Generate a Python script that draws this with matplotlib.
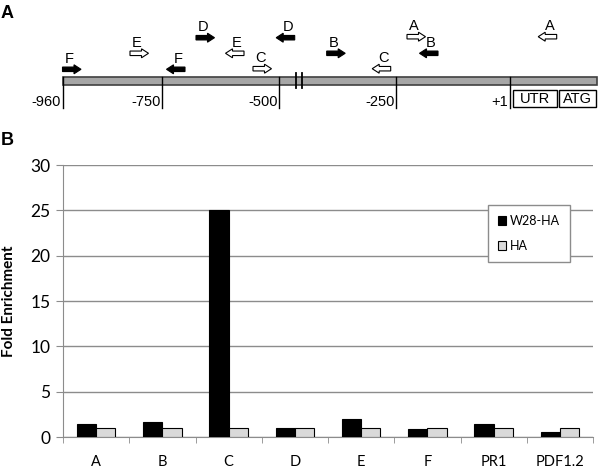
import numpy as np
import matplotlib
matplotlib.use("Agg")
import matplotlib.pyplot as plt
from matplotlib.patches import Rectangle, FancyArrow

# bar chart data
cats = ["A", "B", "C", "D", "E", "F", "PR1", "PDF1.2"]
w28 = [1.4, 1.65, 25.0, 1.0, 1.95, 0.9, 1.45, 0.6]
ha = [1.0, 1.0, 1.0, 1.0, 1.0, 1.0, 1.0, 1.0]

# promoter schematic (pixel positions of the drawing)
tick_x = [62.7, 162, 279, 396.3, 509.7]
tick_lab = ["-960", "-750", "-500", "-250", "+1"]
# primer arrows: label, x start, y, direction, filled
primers = [
    ("F", 62.5, 69.3, 1, True),
    ("E", 130, 53.3, 1, False),
    ("F", 185, 69.3, -1, True),
    ("D", 196, 37.7, 1, True),
    ("E", 244, 53.3, -1, False),
    ("C", 253, 68.7, 1, False),
    ("D", 294.7, 37.7, -1, True),
    ("B", 326.7, 53.3, 1, True),
    ("C", 390.7, 68.7, -1, False),
    ("A", 407, 36.7, 1, False),
    ("B", 438, 53.3, -1, True),
    ("A", 556.7, 36.7, -1, False),
]

fig = plt.figure(figsize=(6, 4.72), dpi=100)

# ---- panel A, drawn in pixel coordinates
ax0 = fig.add_axes([0, 0, 1, 1])
ax0.set_xlim(0, 600)
ax0.set_ylim(472, 0)
ax0.axis("off")

ax0.text(1, 18, "A", fontsize=13, fontweight="bold", family="Liberation Sans", va="baseline")
ax0.text(1, 145, "B", fontsize=13, fontweight="bold", family="Liberation Sans", va="baseline")

ax0.add_patch(Rectangle((62.7, 77.3), 596.7 - 62.7, 8, facecolor="#a6a6a6",
                        edgecolor="#404040", lw=1.2))
for x, lab in zip(tick_x, tick_lab):
    ax0.plot([x, x], [77.3, 108], color="black", lw=1)
    ax0.text(x - 1.5, 101.5, lab, ha="right", va="center", fontsize=10.5,
             family="Liberation Sans")
for x in [295.5, 301.5]:
    ax0.plot([x, x], [73.3, 88.3], color="black", lw=1.3)

ax0.add_patch(Rectangle((513.3, 90), 44, 17.3, facecolor="white", edgecolor="black", lw=1))
ax0.add_patch(Rectangle((559.3, 90), 36.7, 17.3, facecolor="white", edgecolor="black", lw=1))
ax0.text(535.3, 99, "UTR", ha="center", va="center", fontsize=10.5, family="Liberation Sans")
ax0.text(577.6, 99, "ATG", ha="center", va="center", fontsize=10.5, family="Liberation Sans")

for lab, x, y, d, filled in primers:
    fc = "black" if filled else "white"
    ax0.add_patch(FancyArrow(x, y, d * 18.5, 0, width=4.5, head_width=9, head_length=7,
                             length_includes_head=True, facecolor=fc, edgecolor="black",
                             lw=0.8))
    ax0.text(x + d * 7, y - 10.5, lab, ha="center", va="center", fontsize=10.5,
             family="Liberation Sans")

# ---- panel B bar chart
ax = fig.add_axes([63 / 600, 1 - 437 / 472, 530 / 600, 272 / 472])
x = np.arange(len(cats))
bw = 0.29
ax.bar(x - bw / 2, w28, bw, color="black", edgecolor="black", lw=0.8, label="W28-HA", zorder=3)
ax.bar(x + bw / 2, ha, bw, color="#d9d9d9", edgecolor="black", lw=0.8, label="HA", zorder=3)

ax.set_xlim(-0.5, len(cats) - 0.5)
ax.set_ylim(0, 30)
ax.set_yticks(np.arange(0, 31, 5))
ax.grid(axis="y", color="#8c8c8c", lw=1, zorder=0)
ax.set_xticks(x)
ax.set_xticklabels(cats, fontsize=10.5, family="Lato")
ax.tick_params(axis="x", which="major", length=0, pad=13)
ax.set_xticks(np.arange(-0.5, len(cats), 1), minor=True)
ax.tick_params(axis="x", which="minor", length=4, color="#8c8c8c", direction="out")
ax.tick_params(axis="y", length=5, color="#8c8c8c", labelsize=12.5, pad=4)
for t in ax.get_yticklabels():
    t.set_family("Lato")
for s in ["top", "right"]:
    ax.spines[s].set_visible(False)
ax.spines["left"].set_color("#8c8c8c")
ax.spines["bottom"].set_color("#8c8c8c")
ax.set_ylabel("Fold Enrichment", fontsize=11, fontweight="bold", family="Lato", labelpad=10)

leg = ax.legend(loc="upper left", bbox_to_anchor=((487.7 - 63) / 530, (437 - 205) / 272),
                prop={"family": "Lato", "size": 9}, fancybox=False,
                framealpha=1, edgecolor="#8c8c8c", handlelength=0.7, handleheight=0.7,
                handletextpad=0.3, labelspacing=1.0, borderpad=0.8, borderaxespad=0)
leg.get_frame().set_linewidth(1)

fig.savefig("out.png", dpi=100)
